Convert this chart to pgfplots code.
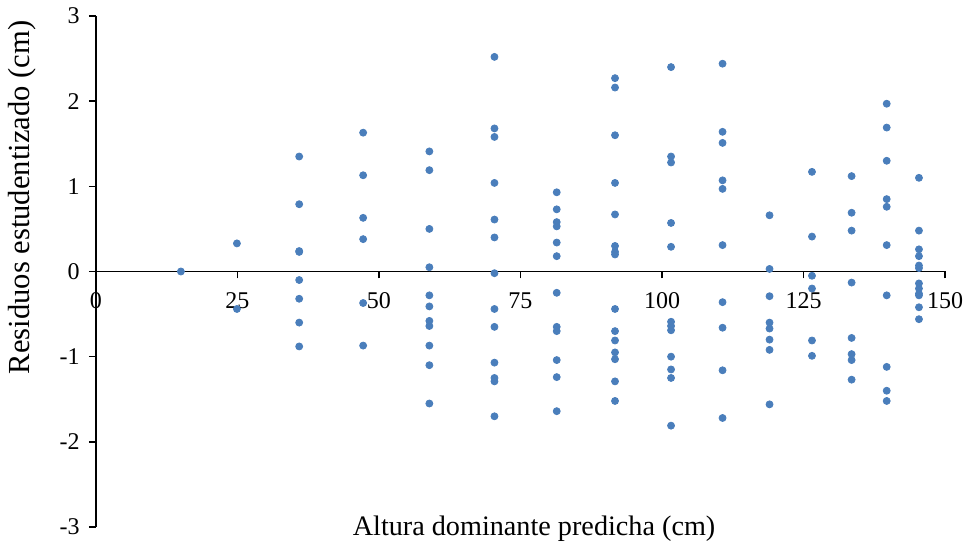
\documentclass[border=0pt]{standalone}
\usepackage{fontspec}
\setmainfont{Liberation Serif}
\usepackage{pgfplots}
\pgfplotsset{compat=1.18}
\definecolor{dotblue}{HTML}{4A7EBB}

\begin{document}
\begin{tikzpicture}
\begin{axis}[
    scale only axis,
    width=424.5bp,
    height=255.5bp,
    xmin=0, xmax=150,
    ymin=-3, ymax=3,
    axis x line*=middle,
    axis y line*=left,
    axis line style={line width=0.75bp, black},
    xtick={0,25,50,75,100,125,150},
    xticklabels={0,25,50,75,100,125,150},
    ytick={-3,-2,-1,0,1,2,3},
    yticklabels={-3,-2,-1,0,1,2,3},
    tick align=outside,
    major tick length=3.5bp,
    tick style={line width=0.75bp, black},
    hide obscured x ticks=false,
    hide obscured y ticks=false,
    xticklabel style={font=\fontsize{12bp}{14bp}\selectfont, anchor=north, inner sep=0pt, yshift=-7bp},
    yticklabel style={font=\fontsize{12bp}{14bp}\selectfont, anchor=east, inner sep=0pt, xshift=-4.5bp},
    xlabel={Altura dominante predicha (cm)},
    ylabel={Residuos estudentizado (cm)},
    xlabel style={font=\fontsize{14.1bp}{17bp}\selectfont, at={(rel axis cs:0.516,-0.0166)}, anchor=base, inner sep=0pt},
    ylabel style={font=\fontsize{15.3bp}{18bp}\selectfont, at={(rel axis cs:-0.0872,0.645)}, anchor=center, inner sep=0pt, rotate=0},
    clip=false,
]
\addplot[only marks, mark=*, mark size=1.75bp, mark options={draw=dotblue, fill=dotblue}] table {
x y
15.0 0.00
24.9 0.33
24.9 -0.44
35.9 1.35
35.9 0.79
35.9 0.24
35.9 0.23
35.9 -0.10
35.9 -0.32
35.9 -0.60
35.9 -0.88
47.2 1.63
47.2 1.13
47.2 0.63
47.2 0.38
47.2 -0.37
47.2 -0.87
58.9 1.41
58.9 1.19
58.9 0.50
58.9 0.05
58.9 -0.28
58.9 -0.41
58.9 -0.58
58.9 -0.64
58.9 -0.87
58.9 -1.10
58.9 -1.55
70.4 2.52
70.4 1.68
70.4 1.58
70.4 1.04
70.4 0.61
70.4 0.40
70.4 -0.02
70.4 -0.44
70.4 -0.65
70.4 -1.07
70.4 -1.25
70.4 -1.29
70.4 -1.70
81.4 0.93
81.4 0.73
81.4 0.58
81.4 0.53
81.4 0.34
81.4 0.18
81.4 -0.25
81.4 -0.65
81.4 -0.70
81.4 -1.04
81.4 -1.24
81.4 -1.64
91.7 2.27
91.7 2.16
91.7 1.60
91.7 1.04
91.7 0.67
91.7 0.30
91.7 0.23
91.7 0.20
91.7 -0.44
91.7 -0.70
91.7 -0.81
91.7 -0.95
91.7 -1.03
91.7 -1.29
91.7 -1.52
101.6 2.40
101.6 1.35
101.6 1.28
101.6 0.57
101.6 0.29
101.6 -0.59
101.6 -0.64
101.6 -0.69
101.6 -1.00
101.6 -1.15
101.6 -1.25
101.6 -1.81
110.7 2.44
110.7 1.64
110.7 1.51
110.7 1.07
110.7 0.97
110.7 0.31
110.7 -0.36
110.7 -0.66
110.7 -1.16
110.7 -1.72
119.0 0.66
119.0 0.03
119.0 -0.29
119.0 -0.60
119.0 -0.67
119.0 -0.80
119.0 -0.92
119.0 -1.56
126.5 1.17
126.5 0.41
126.5 -0.05
126.5 -0.20
126.5 -0.81
126.5 -0.99
133.5 1.12
133.5 0.69
133.5 0.48
133.5 -0.13
133.5 -0.78
133.5 -0.97
133.5 -1.04
133.5 -1.27
139.7 1.97
139.7 1.69
139.7 1.30
139.7 0.85
139.7 0.76
139.7 0.31
139.7 -0.28
139.7 -1.12
139.7 -1.40
139.7 -1.52
145.4 1.10
145.4 0.48
145.4 0.26
145.4 0.18
145.4 0.07
145.4 0.04
145.4 -0.14
145.4 -0.20
145.4 -0.26
145.4 -0.28
145.4 -0.42
145.4 -0.56
};
\coordinate (bbll) at (rel axis cs:-0.11307,-0.03914);
\coordinate (bbur) at (rel axis cs:1.02356,1.03131);
\end{axis}
\pgfresetboundingbox
\path[use as bounding box] (bbll) rectangle (bbur);
\end{tikzpicture}
\end{document}
